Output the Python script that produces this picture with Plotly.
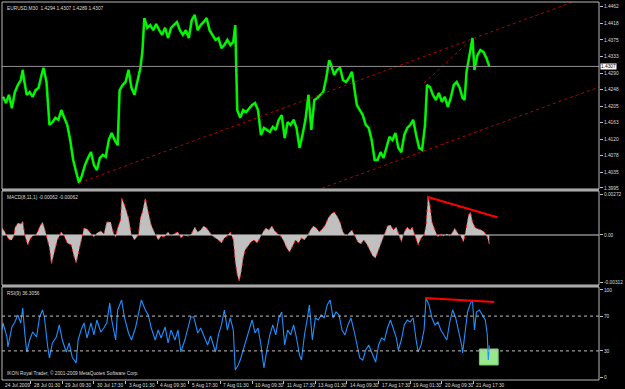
import plotly.graph_objects as go

# ---------------- data (time axis in trading hours from chart start) ----------------
price_t = [4,7,10,13,16,19,22,24,25,28,31,34,37,40,43,45,48,51,54,57,60,63,66,69,72,75,78,81,84,87,90,93,96,99,102,105,108,111,114,117,120,122,125,128,131,134,137,140,143,145,147,150,153,156,159,162,165,168,171,174,177,180,183,186,189,192,195,198,201,204,207,210,213,216,219,222,225,228,231,234,237,239,241,244,247,250,253,256,259,262,265,268,271,274,277,280,283,286,289,292,295,298,301,304,307,310,313,316,319,322,325,328,331,334,336,339,342,345,348,351,354,357,359,362,365,368,371,374,377,380,383,386,389,392,395,398,401,404,407,410,413,416,419,422,425,428,431,433,436,439,442,445,448,451,454,457,460,463,466,469,471,473,476,479,481,484,487,490,493,496]
price = [1.4229,1.4213,1.4234,1.4200,1.4241,1.4259,1.4272,1.4298,1.4277,1.4234,1.4241,1.4229,1.4246,1.4252,1.4285,1.4303,1.4267,1.4157,1.4164,1.4175,1.4170,1.4195,1.4175,1.4157,1.4118,1.4067,1.4036,1.4008,1.4028,1.4054,1.4072,1.4087,1.4054,1.4041,1.4072,1.4080,1.4075,1.4118,1.4136,1.4118,1.4105,1.4246,1.4259,1.4267,1.4298,1.4252,1.4234,1.4272,1.4303,1.4344,1.4431,1.4406,1.4413,1.4400,1.4416,1.4400,1.4388,1.4406,1.4380,1.4406,1.4413,1.4421,1.4400,1.4388,1.4400,1.4380,1.4426,1.4439,1.4400,1.4413,1.4421,1.4431,1.4400,1.4388,1.4375,1.4380,1.4354,1.4362,1.4375,1.4362,1.4370,1.4413,1.4195,1.4175,1.4195,1.4190,1.4200,1.4208,1.4213,1.4195,1.4131,1.4149,1.4144,1.4139,1.4152,1.4144,1.4170,1.4182,1.4123,1.4164,1.4157,1.4170,1.4149,1.4098,1.4131,1.4170,1.4234,1.4144,1.4221,1.4226,1.4234,1.4241,1.4277,1.4323,1.4311,1.4285,1.4298,1.4303,1.4272,1.4267,1.4277,1.4293,1.4259,1.4208,1.4195,1.4182,1.4157,1.4149,1.4118,1.4067,1.4067,1.4087,1.4072,1.4098,1.4126,1.4118,1.4136,1.4098,1.4087,1.4131,1.4149,1.4157,1.4170,1.4131,1.4098,1.4093,1.4157,1.4259,1.4254,1.4234,1.4221,1.4239,1.4216,1.4229,1.4203,1.4226,1.4259,1.4267,1.4252,1.4226,1.4221,1.4293,1.4336,1.4380,1.4298,1.4336,1.4349,1.4344,1.4329,1.4307]

macd_t = [3,6,9,11,13,15,16,19,22,24,26,29,32,34,37,39,41,44,46,48,51,53,56,59,63,66,69,73,76,78,81,83,86,89,93,96,99,103,106,109,113,116,118,120,123,124,127,129,131,134,137,141,143,145,148,151,154,158,161,164,167,171,174,177,181,184,187,191,194,198,201,204,207,210,213,216,219,222,225,228,231,234,237,239,241,243,245,247,249,252,255,258,261,264,267,270,273,276,279,282,285,288,291,294,297,300,303,306,309,312,315,318,321,324,327,330,333,336,339,342,345,348,351,354,357,360,363,366,369,372,375,378,381,384,387,390,393,396,399,402,405,407,410,413,416,418,421,424,427,430,432,434,436,438,441,444,447,450,453,456,459,461,464,467,470,473,475,477,479,482,485,488,491,494,496]
macd = [0.00046,0.00020,-0.00020,-0.00033,-0.00033,-0.00007,0.00046,0.00080,0.00073,0.00093,0.0,-0.00066,-0.00020,-0.00007,0.0,0.00020,0.00053,0.00086,0.00046,0.0,-0.00086,-0.00193,-0.00113,-0.00033,0.00020,-0.00007,-0.00053,-0.00066,-0.00146,-0.00186,-0.00100,-0.00033,0.00046,0.00040,0.00013,-0.00013,0.00013,0.00027,0.00007,0.00086,0.00086,0.00007,-0.00013,0.00046,0.00100,0.00246,0.00199,0.00146,0.00113,0.0,-0.00033,0.0,0.00113,0.00153,0.00246,0.00153,0.00066,0.00007,-0.00033,-0.00007,-0.00013,0.00020,-0.00007,0.00007,0.00020,-0.00020,0.0,-0.00007,0.0,0.00053,0.00020,0.00033,0.00060,0.00046,0.00020,-0.00007,-0.00020,-0.00033,-0.00053,-0.00020,-0.00007,0.00020,-0.00033,-0.00179,-0.00266,-0.00305,-0.00246,-0.00153,-0.00100,-0.00073,-0.00046,-0.00033,-0.00053,-0.00020,0.00020,0.00046,0.00033,0.00060,0.00027,0.00007,-0.00007,-0.00040,-0.00086,-0.00113,-0.00073,-0.00033,-0.00053,-0.00020,-0.00033,-0.00007,0.00033,0.00060,0.00046,0.00020,0.00040,0.00066,0.00113,0.00139,0.00153,0.00126,0.00086,0.00020,-0.00007,0.00013,0.00033,-0.00007,-0.00046,-0.00060,-0.00033,-0.00060,-0.00100,-0.00139,-0.00153,-0.00100,-0.00033,0.00020,0.00060,0.00066,0.00033,0.00053,-0.00007,-0.00046,0.00020,0.00053,0.00033,0.00053,-0.00007,-0.00066,-0.00020,0.0,0.00066,0.00258,0.00199,0.00086,0.00033,-0.00013,0.00007,-0.00007,0.00007,-0.00007,0.00020,0.00046,0.00013,-0.00007,-0.00046,0.00080,0.00133,0.00153,0.00086,0.00046,0.00040,0.00033,0.00020,-0.00013,-0.00062]

rsi_t = [3,4,6,8,9,11,13,16,19,22,24,26,28,31,34,38,41,44,46,49,51,54,58,61,64,68,71,74,78,80,83,86,89,93,96,99,103,106,109,112,114,118,120,124,127,131,134,138,141,144,148,151,154,158,161,164,168,171,174,178,181,184,188,191,194,197,201,204,208,211,214,218,219,222,225,228,231,234,237,239,242,244,247,250,253,256,259,262,265,268,271,274,277,280,283,286,289,292,295,298,301,304,306,309,312,314,317,320,323,326,329,332,335,338,341,344,347,350,353,356,359,362,365,368,371,374,377,381,384,387,390,393,396,399,402,404,407,410,413,416,419,422,424,427,430,432,435,438,441,444,447,450,453,456,459,462,465,468,469,471,474,477,479,481,483,486,489,492,494,495,496]
rsi = [54.0,62.1,54.0,46.0,34.5,48.3,57.5,63.2,71.3,62.1,79.3,50.6,28.7,42.5,51.7,46.0,69.0,77.0,67.8,36.8,21.8,39.1,46.0,59.8,42.5,28.7,39.1,23.0,16.1,42.5,54.0,62.1,44.8,62.1,48.3,65.5,51.7,56.3,62.1,85.1,65.5,42.5,77.0,88.5,67.8,50.6,42.5,56.3,73.6,88.5,77.0,71.3,56.3,42.5,54.0,44.8,57.5,39.1,54.0,42.5,54.0,28.7,42.5,56.3,69.0,69.0,50.6,56.3,44.8,36.8,47.1,33.3,28.7,48.3,59.8,77.0,54.0,67.8,54.0,8.0,13.8,19.5,31.0,42.5,54.0,65.5,50.6,56.3,36.8,10.3,31.0,48.3,59.8,48.3,67.8,74.7,36.8,54.0,48.3,59.8,44.8,25.3,19.5,48.3,67.8,82.8,42.5,67.8,65.5,71.3,67.8,82.8,88.5,67.8,74.7,71.3,54.0,48.3,59.8,67.8,54.0,36.8,21.8,19.5,31.0,36.8,28.7,17.2,36.8,44.8,42.5,56.3,65.5,54.0,44.8,31.0,42.5,59.8,65.5,63.2,67.8,42.5,28.7,36.8,54.0,90.8,82.8,67.8,59.8,63.2,54.0,48.3,42.5,63.2,77.0,67.8,54.0,36.8,27.6,48.3,74.7,85.1,88.5,54.0,74.7,77.0,71.3,65.5,48.3,19.5,36.3]

# drawn objects (trend lines) as (time, value) pairs
upper_channel_t = [81, 607];  upper_channel_v = [1.4008, 1.4497]
lower_channel_t = [321, 607]; lower_channel_v = [1.3989, 1.4254]
short_line_t = [430, 474];    short_line_v = [1.4264, 1.4367]
macd_div_t = [433, 504];      macd_div_v = [0.00254, 0.00118]
rsi_div_t = [431, 501];       rsi_div_v = [90.8, 86.2]
box_t = [486, 505];           box_v = [13.8, 32.2]
current_price = 1.4307

price_ticks = [1.4462, 1.4418, 1.4375, 1.4333, 1.4290, 1.4248, 1.4205, 1.4163, 1.4120, 1.4078, 1.4035, 1.3995]
macd_ticks = [0.00272, 0.0, -0.00312]
macd_tick_text = ["0.00272", "0.00", "-0.00312"]
rsi_ticks = [100, 70, 30, 0]
date_t = [3, 32, 64, 96, 128, 160, 192, 224, 256, 288, 320, 352, 384, 416, 448, 480]
date_labels = ["24 Jul 2009", "28 Jul 01:30", "29 Jul 09:30", "30 Jul 17:30", "3 Aug 01:30", "4 Aug 09:30",
               "5 Aug 17:30", "7 Aug 01:30", "10 Aug 09:30", "11 Aug 17:30", "13 Aug 01:30", "14 Aug 09:30",
               "17 Aug 17:30", "19 Aug 01:30", "20 Aug 09:30", "21 Aug 17:30"]

header_price = "EURUSD,M30  1.4294 1.4307 1.4289 1.4307"
header_macd = "MACD(8,11,1) -0.00062 -0.00062"
header_rsi = "RSI(9) 36.3056"
footer = "IKON Royal Trader, © 2001-2009 MetaQuotes Software Corp."

# ---------------- figure ----------------
FONT = "Liberation Sans"
FS = 4.8
TXT = "#dcdcdc"
FRAME = "#b8b8b8"
D_PRICE = [0.5053, 1.0]
D_MACD = [0.2513, 0.5]
D_RSI = [0.0, 0.246]

fig = go.Figure()

# price
fig.add_trace(go.Scatter(x=price_t, y=price, mode="lines", line=dict(color="#00e000", width=2.6),
                         xaxis="x", yaxis="y"))
fig.add_trace(go.Scatter(x=price_t, y=price, mode="lines", line=dict(color="#00ff00", width=1.2),
                         xaxis="x", yaxis="y"))
for tt, vv in [(upper_channel_t, upper_channel_v), (lower_channel_t, lower_channel_v), (short_line_t, short_line_v)]:
    fig.add_trace(go.Scatter(x=tt, y=vv, mode="lines", line=dict(color="#b80000", width=1, dash="dot"),
                             xaxis="x", yaxis="y"))

# MACD
fig.add_trace(go.Scatter(x=macd_t, y=macd, mode="lines", fill="tozeroy", fillcolor="#c0c0c0",
                         line=dict(color="#ff2020", width=1, dash="dot"), xaxis="x", yaxis="y2"))
fig.add_trace(go.Scatter(x=macd_div_t, y=macd_div_v, mode="lines", line=dict(color="#ff0000", width=2),
                         xaxis="x", yaxis="y2"))

# RSI
fig.add_trace(go.Scatter(x=rsi_t, y=rsi, mode="lines", line=dict(color="#1e90ff", width=1.1),
                         xaxis="x", yaxis="y3"))
fig.add_trace(go.Scatter(x=rsi_div_t, y=rsi_div_v, mode="lines", line=dict(color="#ff0000", width=2),
                         xaxis="x", yaxis="y3"))

shapes = []
shapes.append(dict(type="line", xref="paper", x0=0, x1=1, yref="y", y0=current_price, y1=current_price,
                   line=dict(color="#909090", width=1)))
shapes.append(dict(type="line", xref="paper", x0=0, x1=1, yref="y2", y0=0, y1=0,
                   line=dict(color="#d0d0d0", width=1), layer="below"))
for lv in [70, 30]:
    shapes.append(dict(type="line", xref="paper", x0=0, x1=1, yref="y3", y0=lv, y1=lv,
                       line=dict(color="#c0c0c0", width=1, dash="dot")))
shapes.append(dict(type="rect", xref="x", yref="y3", x0=box_t[0], x1=box_t[1], y0=box_v[0], y1=box_v[1],
                   fillcolor="#98e890", line=dict(color="#78c870", width=1), layer="below"))
for d in (D_PRICE, D_MACD, D_RSI):
    shapes.append(dict(type="rect", xref="paper", yref="paper", x0=0, x1=1, y0=d[0], y1=d[1],
                       line=dict(color=FRAME, width=1)))
for y0, y1 in [(D_MACD[1], D_PRICE[0]), (D_RSI[1], D_MACD[0])]:
    shapes.append(dict(type="rect", xref="paper", yref="paper", x0=0, x1=1, y0=y0, y1=y1,
                       fillcolor="#a8a8a8", line=dict(width=0)))

annotations = []
hf = dict(family=FONT, size=FS, color=TXT)
annotations.append(dict(text=header_price, xref="paper", yref="paper", x=0, y=D_PRICE[1], xanchor="left",
                        yanchor="top", xshift=3, yshift=-2, showarrow=False, font=hf))
annotations.append(dict(text=header_macd, xref="paper", yref="paper", x=0, y=D_MACD[1], xanchor="left",
                        yanchor="top", xshift=3, yshift=-2, showarrow=False, font=hf))
annotations.append(dict(text=header_rsi, xref="paper", yref="paper", x=0, y=D_RSI[1], xanchor="left",
                        yanchor="top", xshift=3, yshift=-2, showarrow=False, font=hf))
annotations.append(dict(text=footer, xref="paper", yref="paper", x=0, y=0, xanchor="left",
                        yanchor="bottom", xshift=3, yshift=2, showarrow=False, font=hf))
annotations.append(dict(text=f"{current_price:.4f}", xref="paper", yref="y", x=1, y=current_price,
                        xanchor="left", yanchor="middle", xshift=1, showarrow=False, bgcolor="#ffffff",
                        borderpad=0, font=dict(family=FONT, size=FS, color="#000000")))
for tt, lab in zip(date_t, date_labels):
    annotations.append(dict(text=lab, xref="x", yref="paper", x=tt, y=0, xanchor="left", yanchor="top",
                            xshift=1, yshift=-1, showarrow=False, font=hf))

yax_common = dict(side="right", showgrid=False, zeroline=False, ticks="outside", ticklen=3,
                  tickcolor="#c0c0c0", tickfont=dict(family=FONT, size=FS, color=TXT),
                  showline=False, anchor="x")

fig.update_layout(
    width=625, height=389,
    margin=dict(l=2, r=19, t=2, b=9),
    paper_bgcolor="#000000", plot_bgcolor="#000000",
    showlegend=False, hovermode=False,
    xaxis=dict(range=[3, 607], showgrid=False, zeroline=False, showline=False, anchor="y3",
               tickvals=date_t[1:], ticks="outside", ticklen=3, tickcolor="#c0c0c0",
               showticklabels=False),
    yaxis=dict(domain=D_PRICE, range=[1.39924, 1.44723], tickvals=price_ticks,
               ticktext=[f"{v:.4f}" for v in price_ticks], **yax_common),
    yaxis2=dict(domain=D_MACD, range=[-0.00332, 0.00292], tickvals=macd_ticks,
                ticktext=macd_tick_text, **yax_common),
    yaxis3=dict(domain=D_RSI, range=[-3.45, 103.4], tickvals=rsi_ticks,
                ticktext=[str(v) for v in rsi_ticks], **yax_common),
    shapes=shapes, annotations=annotations,
)

fig.write_html("out.html")
